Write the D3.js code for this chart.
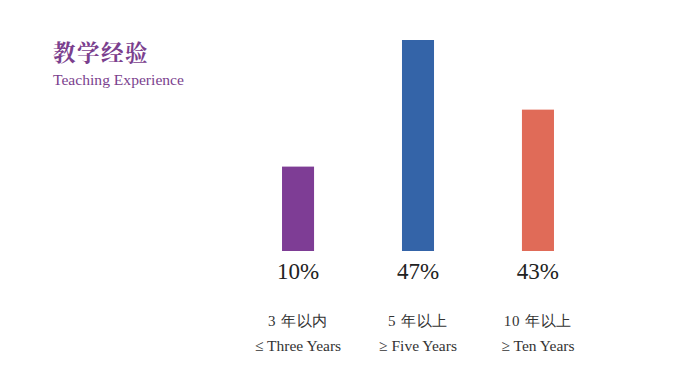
<!DOCTYPE html>
<html><head><meta charset="utf-8">
<script src="https://cdn.jsdelivr.net/npm/d3@7"></script>
<style>html,body{margin:0;padding:0;background:#fff;}</style>
</head><body>
<svg id="chart" width="696" height="385"></svg>
<script>
const categories = ["3 年以内", "5 年以上", "10 年以上"];
const categoriesEn = ["≤ Three Years", "≥ Five Years", "≥ Ten Years"];
const percentLabels = ["10%", "47%", "43%"];
// relative bar heights as drawn in the picture (not proportional to the percentages)
const barLevels = [40, 100, 67];
const colors = ["#7E3D95", "#3464A8", "#E06B58"];

const svg = d3.select("#chart");
const serif = "'Liberation Serif','Times New Roman',serif";

svg.append("text").attr("x", 53).attr("y", 61)
  .attr("font-family", "'Noto Serif CJK SC','Noto Sans CJK SC',sans-serif")
  .attr("font-weight", "bold").attr("font-size", 22.5).attr("letter-spacing", 1.5)
  .attr("fill", "#7B3F8E").text("教学经验");
svg.append("text").attr("x", 53).attr("y", 85)
  .attr("font-family", serif).attr("font-size", 15.6)
  .attr("fill", "#7B3F8E").text("Teaching Experience");

const x = d3.scaleBand().domain(categories).range([238, 598]).paddingInner(0.733).paddingOuter(0.367);
const y = d3.scaleLinear().domain([0, 100]).range([251, 40]);

svg.selectAll("rect.bar").data(categories).join("rect")
  .attr("class", "bar")
  .attr("x", d => x(d))
  .attr("width", x.bandwidth())
  .attr("y", (d, i) => y(barLevels[i]))
  .attr("height", (d, i) => y(0) - y(barLevels[i]))
  .attr("fill", (d, i) => colors[i]);

const cx = d => x(d) + x.bandwidth() / 2;

svg.selectAll("text.pct").data(categories).join("text")
  .attr("class", "pct").attr("x", cx).attr("y", 279)
  .attr("text-anchor", "middle").attr("font-family", serif).attr("font-size", 23)
  .attr("fill", "#222").text((d, i) => percentLabels[i]);

svg.selectAll("text.cat").data(categories).join("text")
  .attr("class", "cat").attr("x", cx).attr("y", 326)
  .attr("text-anchor", "middle").attr("font-family", serif).attr("font-size", 15)
  .attr("letter-spacing", 0.8)
  .attr("fill", "#333").text(d => d);

svg.selectAll("text.catEn").data(categories).join("text")
  .attr("class", "catEn").attr("x", cx).attr("y", 351)
  .attr("text-anchor", "middle").attr("font-family", serif).attr("font-size", 15.5)
  .attr("fill", "#333").text((d, i) => categoriesEn[i]);
</script>
</body></html>
